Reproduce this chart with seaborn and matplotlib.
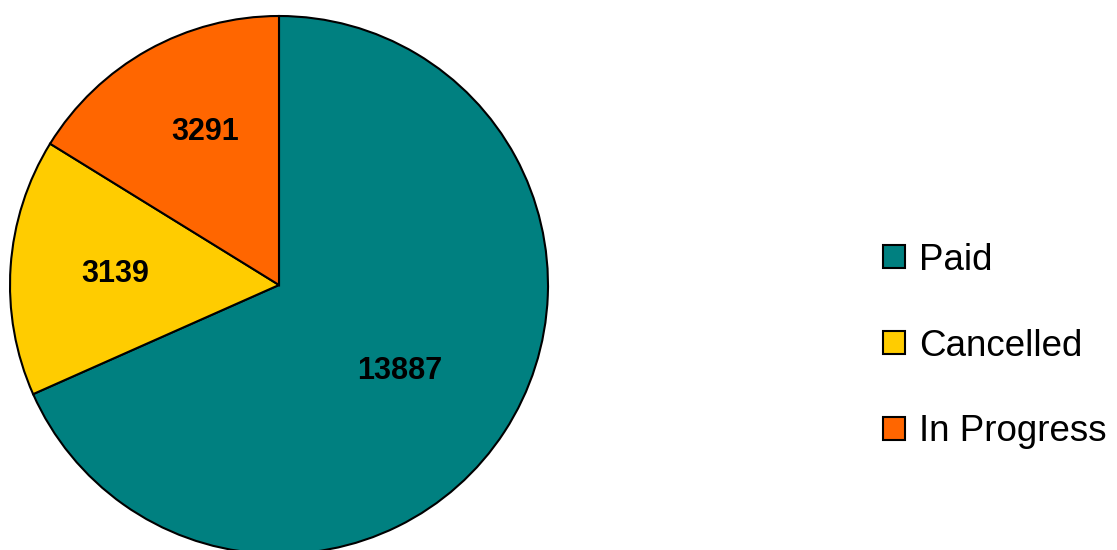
import numpy as np
import matplotlib
matplotlib.use("Agg")
import matplotlib.pyplot as plt
import matplotlib.patches as mpatches
import seaborn as sns

categories = ["Paid", "Cancelled", "In Progress"]
values = [13887, 3139, 3291]
colors = ["#008080", "#FFCC00", "#FF6600"]

sns.set_theme(style="white")
plt.rcParams['font.family'] = ['Liberation Sans', 'DejaVu Sans']
plt.rcParams['text.color'] = 'black'

W, H = 1117, 550
fig = plt.figure(figsize=(W / 100, H / 100), dpi=100)
cx, cy, r = 279, 285, 269
ax = fig.add_axes([(cx - r) / W, (H - cy - r) / H, 2 * r / W, 2 * r / H])

wedges, _ = ax.pie(values, colors=colors, startangle=90, counterclock=False,
                   wedgeprops=dict(edgecolor="black", linewidth=1.5))
ax.set_xlim(-1, 1)
ax.set_ylim(-1, 1)
ax.set_aspect("equal")
ax.axis("off")

label_dist = [0.55, 0.61, 0.63]
label_shift = [-2.5, 0, -3.5]
for w, v, d, s in zip(wedges, values, label_dist, label_shift):
    ang = np.deg2rad((w.theta1 + w.theta2) / 2 + s)
    ax.text(d * np.cos(ang), d * np.sin(ang), str(v), ha="center", va="center",
            fontsize=22, fontweight="bold", color="black")

handles = [mpatches.Patch(facecolor=c, edgecolor="black", linewidth=1.5) for c in colors]
fig.legend(handles, categories, loc="center left",
           bbox_to_anchor=(883 / W, 1 - 346 / H), frameon=False,
           fontsize=26.5, handlelength=0.6, handleheight=0.6,
           handletextpad=0.38, labelspacing=1.38, borderpad=0, borderaxespad=0,
           labelcolor="black")

fig.savefig("out.png", dpi=100)
